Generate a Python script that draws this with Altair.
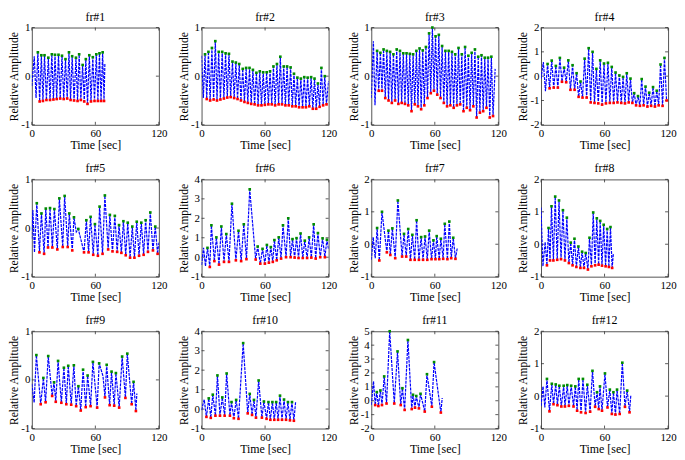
import altair as alt
import pandas as pd

TITLES = ["fr#1", "fr#2", "fr#3", "fr#4", "fr#5", "fr#6",
          "fr#7", "fr#8", "fr#9", "fr#10", "fr#11", "fr#12"]
X_TICKS = [0, 60, 120]
Y_DOMAINS = [(-1, 1), (-1, 1), (-1, 1), (-2, 2), (-1, 1), (-1, 4),
             (-1, 2), (-1, 2), (-1, 1), (-1, 4), (-2, 5), (-1, 2)]

# ---- fr#1 ----
FR1_EDGES = [(0, -0.2), (2.3, 0.41), (4.0, -0.45), (69.0, 0.25)]
FR1_PEAKS = [(5.7, 0.49), (9.0, 0.43), (12.0, 0.43), (15.6, 0.38), (18.9, 0.45), (21.9, 0.44),
             (25.2, 0.44), (28.5, 0.42), (31.8, 0.35), (35.1, 0.49), (38.1, 0.41), (41.7, 0.38),
             (44.7, 0.45), (48.0, 0.23), (51.0, 0.35), (54.3, 0.43), (57.6, 0.39), (60.9, 0.45),
             (63.9, 0.47), (66.9, 0.49)]
FR1_TROUGHS = [(7.4, -0.52), (10.5, -0.51), (13.8, -0.49), (17.2, -0.49), (20.4, -0.48), (23.5, -0.47),
               (26.8, -0.46), (30.1, -0.47), (33.4, -0.46), (36.6, -0.49), (39.9, -0.50), (43.2, -0.51),
               (46.3, -0.49), (49.5, -0.52), (52.6, -0.57), (55.9, -0.52), (59.2, -0.51), (62.4, -0.51),
               (65.4, -0.51), (68.2, -0.51)]

# ---- fr#2 ----
FR2_EDGES = [(0, 0.42), (1.7, -0.45), (120, -0.1)]
FR2_PEAKS = [(3.3, 0.45), (6.5, 0.5), (9.8, 0.58), (13.0, 0.72), (16.2, 0.5), (19.5, 0.5),
             (22.7, 0.47), (25.9, 0.46), (29.2, 0.3), (32.4, 0.28), (35.6, 0.25), (38.9, 0.15),
             (42.1, 0.17), (45.3, 0.17), (48.5, 0.13), (51.8, 0.07), (55.0, 0.1), (58.2, 0.08),
             (61.5, 0.08), (64.7, 0.1), (67.9, 0.2), (71.2, 0.25), (74.4, 0.4), (77.6, 0.2),
             (80.8, 0.2), (84.1, 0.18), (87.3, 0.05), (90.5, -0.03), (93.8, -0.05), (97.0, -0.02),
             (100.2, -0.03), (103.5, -0.02), (106.7, -0.05), (109.9, -0.15), (113.2, 0.17), (116.4, 0.0)]
FR2_TROUGHS = [(4.9, -0.47), (8.1, -0.5), (11.4, -0.48), (14.6, -0.5), (17.8, -0.48), (21.1, -0.46),
               (24.3, -0.44), (27.5, -0.43), (30.8, -0.45), (34.0, -0.47), (37.2, -0.5), (40.5, -0.53),
               (43.7, -0.55), (46.9, -0.57), (50.1, -0.58), (53.4, -0.6), (56.6, -0.6), (59.8, -0.59),
               (63.1, -0.58), (66.3, -0.58), (69.5, -0.6), (72.8, -0.58), (76.0, -0.58), (79.2, -0.6),
               (82.4, -0.6), (85.7, -0.62), (88.9, -0.62), (92.1, -0.64), (95.4, -0.64), (98.6, -0.64),
               (101.8, -0.62), (105.1, -0.67), (108.3, -0.67), (111.5, -0.63), (114.8, -0.6), (118.0, -0.58)]

# ---- fr#3 ----
FR3_EDGES = [(0, -0.45), (2.0, 0.72), (3.5, -0.6), (117.0, 0.15)]
FR3_PEAKS = [(5.5, 0.52), (8.6, 0.48), (11.6, 0.55), (14.7, 0.52), (17.8, 0.5), (20.9, 0.45),
             (24.0, 0.55), (27.1, 0.52), (30.2, 0.47), (33.3, 0.47), (36.4, 0.46), (39.5, 0.45),
             (42.6, 0.52), (45.6, 0.57), (48.6, 0.53), (51.6, 0.6), (54.6, 0.88), (57.7, 1.0),
             (60.7, 0.82), (63.8, 0.85), (66.9, 0.62), (70.0, 0.52), (73.1, 0.52), (76.2, 0.5),
             (79.3, 0.45), (82.4, 0.58), (85.5, 0.45), (88.6, 0.6), (91.7, 0.42), (94.8, 0.48),
             (97.9, 0.55), (101.0, 0.4), (104.1, 0.43), (107.2, 0.38), (110.3, 0.38), (113.4, 0.4)]
FR3_TROUGHS = [(7.0, -0.3), (10.1, -0.3), (13.2, -0.45), (16.3, -0.5), (19.4, -0.55), (22.5, -0.5),
               (25.6, -0.57), (28.7, -0.55), (31.8, -0.57), (34.9, -0.6), (38.0, -0.72), (41.1, -0.58),
               (44.1, -0.62), (47.1, -0.68), (50.1, -0.6), (53.1, -0.45), (56.2, -0.35), (59.2, -0.3),
               (62.3, -0.38), (65.4, -0.45), (68.5, -0.55), (71.6, -0.62), (74.7, -0.6), (77.8, -0.65),
               (80.9, -0.6), (84.0, -0.58), (87.1, -0.72), (90.2, -0.65), (93.3, -0.7), (96.4, -0.62),
               (99.5, -0.85), (102.6, -0.75), (105.7, -0.72), (108.8, -0.65), (111.9, -0.85), (115.0, -0.82)]

# ---- fr#4 ----
FR4_EDGES = [(0, -0.1), (2.2, 0.58), (4.2, -0.62)]
FR4_PEAKS = [(6.2, 0.5), (10.1, 0.64), (14.0, 0.42), (17.8, 0.75), (21.8, 0.35), (25.8, 0.65),
             (29.8, 0.45), (33.6, 0.12), (37.3, -0.22), (41.2, 0.72), (45.0, 1.15), (48.7, 1.0),
             (52.3, 0.3), (55.9, 0.65), (59.5, 0.52), (63.2, 0.55), (66.8, 0.38), (70.4, 0.15),
             (74.0, 0.03), (77.5, -0.03), (81.0, 0.12), (84.5, -0.1), (88.0, -0.7), (91.6, -0.82),
             (95.1, -0.12), (98.7, -0.43), (102.2, -0.68), (105.8, -0.45), (109.3, -0.6), (112.9, 0.48),
             (116.6, 0.75)]
FR4_TROUGHS = [(8.1, -0.5), (12.0, -0.47), (15.9, -0.47), (19.8, -0.23), (23.8, -0.25), (27.8, -0.56),
               (31.7, -0.56), (35.5, -0.85), (39.2, -0.88), (43.1, -0.88), (46.9, -1.08), (50.5, -1.1),
               (54.1, -1.12), (57.7, -1.17), (61.3, -1.12), (65.0, -1.1), (68.6, -1.1), (72.2, -1.08),
               (75.8, -1.1), (79.3, -1.12), (82.8, -1.08), (86.3, -1.1), (89.8, -1.2), (93.4, -1.22),
               (96.9, -1.2), (100.5, -1.25), (104.0, -1.22), (107.6, -1.25), (111.1, -1.2), (114.8, -1.22),
               (118.6, -1.0)]

# ---- fr#5 ----
FR5_EDGES = [(0, -0.22), (1.0, 0.37), (2.5, -0.5), (42.0, -0.08), (120, -0.3)]
FR5_PEAKS = [(4.7, 0.51), (9.1, 0.30), (13.2, 0.40), (17.2, 0.41), (21.3, 0.39), (26.0, 0.61),
             (31.0, 0.66), (35.4, 0.30), (39.8, 0.22), (43.9, -0.02), (51.5, 0.16), (55.5, 0.23),
             (59.6, 0.08), (64.0, 0.44), (69.0, 0.67), (73.7, 0.27), (78.4, 0.25), (82.4, 0.06),
             (86.5, 0.14), (90.6, 0.11), (94.9, 0.03), (99.1, 0.13), (103.4, 0.11), (107.5, 0.16),
             (111.9, 0.32), (116.6, 0.03)]
FR5_TROUGHS = [(7.2, -0.5), (11.6, -0.53), (15.3, -0.4), (19.4, -0.4), (24.1, -0.44), (29.2, -0.39),
               (33.9, -0.39), (38.2, -0.46), (49.3, -0.5), (53.6, -0.5), (58.0, -0.55), (62.4, -0.57),
               (66.8, -0.53), (72.1, -0.44), (76.2, -0.48), (80.6, -0.49), (84.6, -0.51), (88.7, -0.56),
               (92.8, -0.61), (96.9, -0.61), (101.3, -0.57), (105.6, -0.55), (109.7, -0.49), (114.4, -0.46),
               (118.8, -0.53)]

# ---- fr#6 ----
FR6_EDGES = [(0, -0.4), (1.9, 0.48), (3.7, -0.46), (120, 0.4)]
FR6_PEAKS = [(5.6, 0.48), (9.3, 1.64), (14.0, 1.02), (18.7, 1.58), (23.4, 1.19), (28.7, 2.75),
             (34.9, 1.36), (39.9, 1.69), (45.5, 3.49), (53.0, 0.55), (57.6, 0.43), (61.7, 0.63),
             (65.4, 0.52), (68.8, 0.88), (72.9, 1.02), (76.9, 1.64), (81.9, 2.0), (85.9, 0.93),
             (89.7, 0.98), (93.5, 1.22), (97.5, 0.85), (101.6, 1.02), (105.9, 1.69), (109.9, 1.24),
             (114.3, 0.97), (118.4, 0.9)]
FR6_TROUGHS = [(7.8, -0.5), (12.1, -0.2), (16.5, -0.38), (21.2, -0.24), (25.9, -0.24), (32.4, -0.16),
               (37.4, -0.2), (42.4, -0.1), (51.1, -0.12), (55.5, -0.33), (59.8, -0.33), (63.6, -0.28),
               (67.3, -0.24), (71.0, -0.16), (75.1, -0.07), (79.8, 0.0), (84.1, 0.0), (87.9, -0.02),
               (91.6, -0.04), (95.6, -0.04), (99.7, -0.04), (103.7, -0.02), (107.8, -0.07), (112.1, 0.0),
               (116.5, 0.0)]

# ---- fr#7 ----
FR7_EDGES = [(0, -0.48), (1.8, 0.22), (3.7, -0.43), (81.3, -0.1)]
FR7_PEAKS = [(5.5, 0.5), (10.1, 1.0), (16.2, 0.42), (19.9, 0.49), (25.1, 1.35), (30.9, 0.32),
             (34.9, 0.47), (38.8, 0.29), (42.8, 0.74), (47.1, 0.22), (50.8, 0.24), (54.7, 0.42),
             (58.7, 0.12), (61.8, 0.25), (65.7, 0.17), (69.4, 0.63), (73.7, 0.7), (77.4, 0.2)]
FR7_TROUGHS = [(7.6, -0.5), (14.7, -0.25), (18.0, -0.33), (22.6, -0.43), (29.1, -0.38), (33.0, -0.38),
               (37.0, -0.48), (41.0, -0.48), (45.0, -0.48), (48.9, -0.48), (52.9, -0.48), (56.9, -0.46),
               (60.6, -0.46), (64.2, -0.46), (67.9, -0.45), (71.9, -0.46), (75.5, -0.43), (79.5, -0.45)]

# ---- fr#8 ----
FR8_EDGES = [(0, 1.13), (1.8, -0.68), (3.9, 0.07), (68.3, -0.3)]
FR8_PEAKS = [(7.1, 0.5), (9.9, 1.17), (13.4, 1.47), (17.0, 1.35), (20.7, 1.05), (24.4, 0.82),
             (28.1, 0.05), (31.6, 0.17), (35.3, -0.07), (38.8, -0.23), (42.2, -0.27), (45.8, 0.2),
             (49.3, 0.98), (52.7, 0.8), (55.9, 0.72), (59.2, 0.6), (62.5, 0.47), (65.6, 0.53)]
FR8_TROUGHS = [(5.6, -0.65), (8.5, -0.5), (11.7, -0.5), (15.3, -0.48), (18.9, -0.46), (22.6, -0.5),
               (26.3, -0.58), (29.8, -0.65), (33.4, -0.7), (37.2, -0.73), (40.6, -0.73), (44.3, -0.78),
               (47.6, -0.68), (51.1, -0.65), (54.4, -0.63), (57.6, -0.66), (61.0, -0.68), (64.1, -0.7),
               (67.2, -0.73)]

# ---- fr#9 ----
FR9_EDGES = [(0, -0.08), (2.2, -0.47), (67.2, 0.08), (99.2, -0.28)]
FR9_PEAKS = [(4.3, 0.51), (10.9, 0.04), (15.5, 0.49), (21.0, -0.05), (24.8, 0.39), (30.3, 0.25),
             (34.4, 0.29), (39.7, 0.30), (44.0, -0.13), (48.4, 0.21), (52.7, 0.09), (57.7, 0.37),
             (63.6, 0.34), (70.7, 0.31), (75.3, 0.17), (79.4, 0.14), (85.3, 0.48), (90.2, 0.54),
             (96.1, -0.04)]
FR9_TROUGHS = [(8.4, -0.5), (13.0, -0.46), (19.2, -0.33), (22.6, -0.45), (27.9, -0.47), (32.6, -0.5),
               (37.2, -0.51), (41.9, -0.54), (46.2, -0.63), (50.9, -0.56), (55.5, -0.54), (61.7, -0.57),
               (69.1, -0.36), (73.5, -0.52), (77.8, -0.53), (82.5, -0.57), (88.4, -0.37), (94.3, -0.5),
               (98.3, -0.64)]

# ---- fr#10 ----
FR10_EDGES = [(0, -0.05), (2.5, 0.49), (88.8, 0.35)]
FR10_PEAKS = [(6.8, 0.55), (10.6, 0.74), (15.0, 1.73), (19.6, 0.6), (23.7, 1.83), (28.3, 0.36),
              (32.7, 0.47), (39.3, 3.39), (45.5, 0.78), (49.5, 0.47), (53.9, 1.47), (58.9, 0.39),
              (63.2, 0.36), (66.9, 0.36), (70.5, 0.36), (74.1, 0.69), (77.9, 0.49), (81.6, 0.36),
              (85.4, 0.36)]
FR10_TROUGHS = [(4.6, -0.4), (8.7, -0.45), (13.1, -0.34), (17.4, -0.34), (21.8, -0.34), (26.8, -0.34),
                (30.5, -0.47), (34.9, -0.5), (43.6, -0.22), (47.7, -0.3), (51.4, -0.44), (57.0, -0.44),
                (61.4, -0.5), (65.0, -0.55), (68.7, -0.55), (72.3, -0.55), (76.0, -0.55), (79.8, -0.55),
                (83.5, -0.58), (87.2, -0.6)]

# ---- fr#11 ----
FR11_EDGES = [(0, -0.3), (2.1, 1.4), (67.0, 0.2)]
FR11_PEAKS = [(5.2, 0.62), (8.6, 0.74), (12.2, 1.75), (17.4, 5.0), (24.8, 3.55), (29.4, 0.9),
              (34.6, 4.37), (39.4, 0.43), (42.5, 0.34), (46.5, 0.5), (52.6, 1.91), (59.3, 2.78)]
FR11_TROUGHS = [(3.7, -0.31), (6.7, -0.38), (10.1, -0.31), (14.4, -0.2), (21.7, -0.2), (27.8, -0.31),
                (31.5, -0.66), (38.2, -0.6), (41.3, -0.5), (45.0, -0.55), (50.5, -0.78), (57.2, -0.43),
                (65.7, -0.85)]

# ---- fr#12 ----
FR12_EDGES = [(0, -0.3), (1.9, 0.3), (3.6, -0.35), (84.8, 0.02)]
FR12_PEAKS = [(5.6, 0.53), (10.2, 0.38), (13.9, 0.36), (17.3, 0.32), (21.4, 0.32), (24.8, 0.34),
              (28.5, 0.32), (32.4, 0.3), (35.6, 0.53), (39.6, 0.53), (43.7, 0.35), (48.6, 0.78),
              (52.9, 0.12), (55.7, 0.3), (60.4, 0.7), (65.0, 0.2), (68.4, 0.12), (71.8, 0.2),
              (76.8, 1.03), (81.4, 0.17)]
FR12_TROUGHS = [(8.0, -0.47), (11.8, -0.25), (15.5, -0.28), (19.2, -0.32), (22.6, -0.32), (26.3, -0.3),
                (30.7, -0.32), (34.1, -0.45), (37.8, -0.5), (42.1, -0.52), (46.4, -0.48), (51.1, -0.33),
                (54.5, -0.4), (57.6, -0.45), (62.8, -0.35), (66.9, -0.55), (70.3, -0.57), (74.3, -0.55),
                (79.3, -0.33), (83.6, -0.5)]

PANELS = [
    (FR1_PEAKS, FR1_TROUGHS, FR1_EDGES), (FR2_PEAKS, FR2_TROUGHS, FR2_EDGES),
    (FR3_PEAKS, FR3_TROUGHS, FR3_EDGES), (FR4_PEAKS, FR4_TROUGHS, FR4_EDGES),
    (FR5_PEAKS, FR5_TROUGHS, FR5_EDGES), (FR6_PEAKS, FR6_TROUGHS, FR6_EDGES),
    (FR7_PEAKS, FR7_TROUGHS, FR7_EDGES), (FR8_PEAKS, FR8_TROUGHS, FR8_EDGES),
    (FR9_PEAKS, FR9_TROUGHS, FR9_EDGES), (FR10_PEAKS, FR10_TROUGHS, FR10_EDGES),
    (FR11_PEAKS, FR11_TROUGHS, FR11_EDGES), (FR12_PEAKS, FR12_TROUGHS, FR12_EDGES),
]

W, H = 128, 98
FONT = "Liberation Serif, Times New Roman, DejaVu Serif, serif"
TICK_COLOR = "#333333"


def make_panel(i):
    peaks, troughs, edges = PANELS[i]
    lo, hi = Y_DOMAINS[i]
    y_ticks = list(range(lo, hi + 1))
    line_df = pd.DataFrame(sorted(peaks + troughs + edges), columns=["t", "v"])
    peak_df = pd.DataFrame(peaks, columns=["t", "v"])
    trough_df = pd.DataFrame(troughs, columns=["t", "v"])

    x_enc = alt.X("t:Q", scale=alt.Scale(domain=[0, 120], nice=False, zero=False),
                  axis=alt.Axis(values=X_TICKS, format="d", title="Time [sec]", labelFlush=False))
    y_enc = alt.Y("v:Q", scale=alt.Scale(domain=[lo, hi], nice=False, zero=False),
                  axis=alt.Axis(values=y_ticks, title="Relative Amplitude", labelFlush=False,
                                labelExpr="'' + datum.value"))

    line = alt.Chart(line_df).mark_line(color="#0000ff", strokeWidth=1.2, strokeDash=[3, 1],
                                        clip=True).encode(x=x_enc, y=y_enc)
    tr = alt.Chart(trough_df).mark_square(color="#ff0000", size=7, opacity=1).encode(x=x_enc, y=y_enc)
    pk = alt.Chart(peak_df).mark_square(color="#008c00", size=7, opacity=1).encode(x=x_enc, y=y_enc)

    xt_df = pd.DataFrame({"t": X_TICKS})
    yt_df = pd.DataFrame({"v": y_ticks})
    xb = alt.Chart(xt_df).mark_rule(color=TICK_COLOR, strokeWidth=0.8).encode(
        x=x_enc, y=alt.value(H), y2=alt.value(H - 3))
    xtop = alt.Chart(xt_df).mark_rule(color=TICK_COLOR, strokeWidth=0.8).encode(
        x=x_enc, y=alt.value(0), y2=alt.value(3))
    yl = alt.Chart(yt_df).mark_rule(color=TICK_COLOR, strokeWidth=0.8).encode(
        y=y_enc, x=alt.value(0), x2=alt.value(3))
    yr = alt.Chart(yt_df).mark_rule(color=TICK_COLOR, strokeWidth=0.8).encode(
        y=y_enc, x=alt.value(W), x2=alt.value(W - 3))

    title = alt.Chart(pd.DataFrame({"name": [TITLES[i]]})).mark_text(
        font=FONT, fontSize=12, color="black", align="center", baseline="alphabetic"
    ).encode(text="name:N", x=alt.value(W / 2), y=alt.value(-7))

    return alt.layer(xb, xtop, yl, yr, line, tr, pk, title).properties(width=W, height=H)


panels = [make_panel(i) for i in range(12)]

chart = alt.concat(*panels, columns=4, spacing={"row": 55, "column": 43}, bounds="flush").properties(
    padding={"left": 0, "top": 0, "right": 0, "bottom": 0}
).configure_view(
    stroke="#555555", strokeWidth=1
).configure_axis(
    grid=False, domain=False, ticks=False,
    labelFont=FONT, labelFontSize=11, labelColor="black",
    titleFont=FONT, titleFontWeight="normal", titleColor="black",
).configure_axisX(
    titleFontSize=12, titlePadding=1, labelPadding=3
).configure_axisY(
    titleFontSize=11.5, titlePadding=1, labelPadding=2
)

chart.save("out.html", embed_options={"renderer": "svg", "actions": False})
